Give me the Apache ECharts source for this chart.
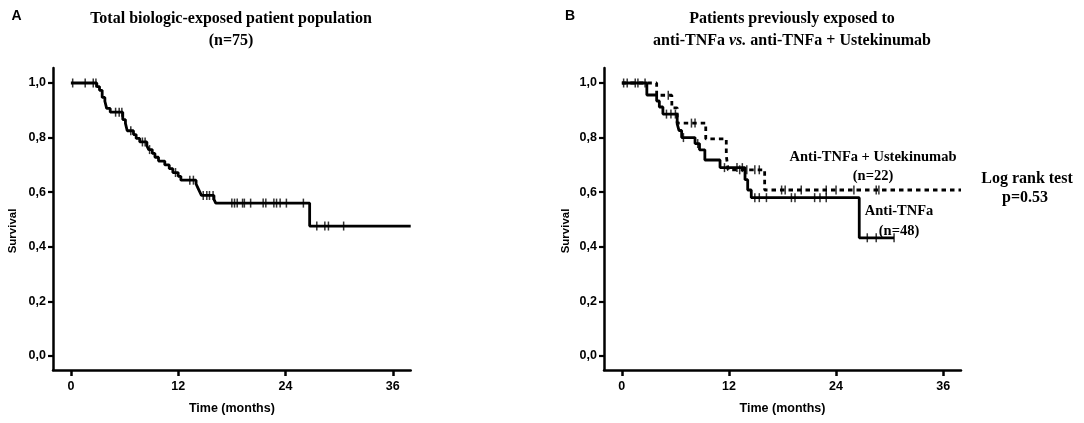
<!DOCTYPE html>
<html><head><meta charset="utf-8">
<script src="https://cdn.jsdelivr.net/npm/echarts@6/dist/echarts.min.js"></script>
<style>html,body{margin:0;padding:0;background:#fff}#c{width:1084px;height:423px}</style>
</head><body><div id="c"></div>
<script>
// ---- tick labels ----
const xTicks = [0, 12, 24, 36];
const yTicks = [0, 0.2, 0.4, 0.6, 0.8, 1.0];

// ---- Panel A: total biologic-exposed population (n=75) ----
const timeA = [0, 2.9, 3.2, 3.5, 3.8, 4.0, 4.4, 5.8, 6.1, 6.3, 7.0, 7.3, 7.7, 8.5, 8.7, 9.1, 9.4, 9.8, 10.5, 11.0, 11.4, 12.0, 12.3, 14.0, 14.2, 14.4, 14.6, 16.0, 16.2, 26.7];
const survA = [1.0, 0.987, 0.973, 0.947, 0.933, 0.907, 0.893, 0.866, 0.852, 0.825, 0.811, 0.797, 0.784, 0.770, 0.756, 0.742, 0.728, 0.714, 0.700, 0.686, 0.672, 0.658, 0.644, 0.630, 0.616, 0.602, 0.588, 0.574, 0.560, 0.476];
const endA = 38;
const censorA = [0.2, 1.6, 2.5, 2.8, 5.0, 5.4, 5.7, 6.7, 8.0, 8.3, 8.8, 11.7, 13.3, 13.7, 14.8, 15.2, 15.5, 15.9, 18.0, 18.3, 18.6, 19.2, 19.4, 20.1, 21.5, 21.8, 22.7, 23.0, 23.4, 24.1, 26.0, 27.5, 28.4, 28.8, 30.5];

// ---- Panel B: Anti-TNFa (n=48), solid ----
const timeB1 = [0, 2.8, 3.9, 4.2, 4.6, 6.2, 6.4, 6.7, 8.2, 8.7, 9.3, 11.0, 13.8, 14.1, 14.5, 26.6];
const survB1 = [1.0, 0.956, 0.934, 0.912, 0.886, 0.850, 0.826, 0.800, 0.778, 0.755, 0.718, 0.690, 0.646, 0.608, 0.580, 0.433];
const endB1 = 30.5;
const censorB1 = [0.2, 1.5, 2.6, 5.0, 5.5, 6.0, 6.9, 8.5, 11.5, 12.9, 13.5, 14.9, 15.4, 16.2, 19.0, 19.4, 21.6, 22.2, 22.9, 27.5, 28.5, 30.5];

// ---- Panel B: Anti-TNFa + Ustekinumab (n=22), dashed ----
const timeB2 = [0, 3.9, 5.6, 6.2, 9.4, 11.7, 11.9, 16.0];
const survB2 = [1.0, 0.955, 0.909, 0.853, 0.795, 0.735, 0.682, 0.608];
const endB2 = 38;
const censorB2 = [0.6, 1.8, 5.2, 7.8, 8.2, 13.2, 14.0, 14.9, 15.4, 17.9, 18.3, 20.1, 22.9, 24.0, 26.0, 28.5, 28.8];

// ---- helpers building library data from the arrays ----
function stepData(times, surv, end) {
  const d = times.map((t, i) => [t, surv[i]]);
  d.push([end, surv[surv.length - 1]]);
  return d;
}
function survAt(times, surv, t) {
  let s = surv[0];
  for (let i = 0; i < times.length; i++) if (times[i] <= t) s = surv[i];
  return s;
}
function censorData(times, surv, cens) {
  return cens.map(t => [t, survAt(times, surv, t)]);
}

const SANS = 'Liberation Sans, Arial, sans-serif';
const SERIF = 'Liberation Serif, Times New Roman, serif';

function xAx(i) {
  return {
    gridIndex: i, type: 'value', min: -2, max: 38,
    axisLine: { onZero: false, lineStyle: { color: '#000', width: 2.5 } },
    axisTick: { customValues: xTicks, length: 6, lineStyle: { color: '#000', width: 2.5 } },
    axisLabel: { customValues: xTicks, color: '#000', fontFamily: SANS, fontWeight: 'bold', fontSize: 12.5, margin: 10 },
    splitLine: { show: false },
    name: 'Time (months)', nameLocation: 'middle', nameGap: 32,
    nameTextStyle: { color: '#000', fontFamily: SANS, fontWeight: 'bold', fontSize: 12.5 }
  };
}
function yAx(i) {
  return {
    gridIndex: i, type: 'value', min: -0.0513, max: 1.0549,
    axisLine: { onZero: false, lineStyle: { color: '#000', width: 2.5 } },
    axisTick: { customValues: yTicks, length: 5, lineStyle: { color: '#000', width: 2.2 } },
    axisLabel: { customValues: yTicks, color: '#000', fontFamily: SANS, fontWeight: 'bold', fontSize: 12.5, margin: 7,
      formatter: v => v.toFixed(1).replace('.', ',') },
    splitLine: { show: false }
  };
}
function lineSeries(i, data, dashed) {
  return {
    type: 'line', xAxisIndex: i, yAxisIndex: i, step: 'end', data: data,
    symbol: 'none', silent: true,
    lineStyle: { color: '#000', width: 2.8, type: dashed ? [4.5, 4] : 'solid' }, z: 3
  };
}
function censSeries(i, data) {
  return {
    type: 'scatter', xAxisIndex: i, yAxisIndex: i, data: data, silent: true,
    symbol: 'rect', symbolSize: [1.5, 9], itemStyle: { color: '#000' }, z: 4
  };
}
function txt(x, y, text, font, extra) {
  return Object.assign({
    type: 'text', x: x, y: y, silent: true,
    style: Object.assign({ text: text, font: font, fill: '#000',
      align: 'center', verticalAlign: 'middle', textAlign: 'center', textVerticalAlign: 'middle' }, extra || {})
  });
}

const chart = echarts.init(document.getElementById('c'));
chart.setOption({
  animation: false,
  backgroundColor: '#fff',
  grid: [
    { left: 53, top: 68, width: 357.7, height: 302, outerBoundsMode: 'none', containLabel: false },
    { left: 604, top: 68, width: 357, height: 302, outerBoundsMode: 'none', containLabel: false }
  ],
  xAxis: [xAx(0), xAx(1)],
  yAxis: [yAx(0), yAx(1)],
  series: [
    lineSeries(0, stepData(timeA, survA, endA), false),
    censSeries(0, censorData(timeA, survA, censorA)),
    lineSeries(1, stepData(timeB2, survB2, endB2), true),
    censSeries(1, censorData(timeB2, survB2, censorB2)),
    lineSeries(1, stepData(timeB1, survB1, endB1), false),
    censSeries(1, censorData(timeB1, survB1, censorB1))
  ],
  graphic: [
    txt(16.5, 16, 'A', 'bold 14px ' + SANS),
    txt(570, 16, 'B', 'bold 14px ' + SANS),
    txt(231, 19, 'Total biologic-exposed patient population', 'bold 16px ' + SERIF),
    txt(231, 41, '(n=75)', 'bold 16px ' + SERIF),
    txt(792, 19, 'Patients previously exposed to', 'bold 16px ' + SERIF),
    {
      type: 'text', x: 792, y: 41, silent: true,
      style: {
        text: '{n|anti-TNFa }{i|vs.}{n| anti-TNFa + Ustekinumab}',
        fill: '#000', align: 'center', verticalAlign: 'middle', textAlign: 'center', textVerticalAlign: 'middle',
        rich: {
          n: { fontFamily: SERIF, fontWeight: 'bold', fontSize: 16, fill: '#000', color: '#000' },
          i: { fontFamily: SERIF, fontWeight: 'bold', fontStyle: 'italic', fontSize: 16, fill: '#000', color: '#000' }
        }
      }
    },
    Object.assign(txt(13, 231, 'Survival', 'bold 11.5px ' + SANS), { rotation: Math.PI / 2 }),
    Object.assign(txt(566, 231, 'Survival', 'bold 11.5px ' + SANS), { rotation: Math.PI / 2 }),
    txt(873, 157, 'Anti-TNFa + Ustekinumab', 'bold 14.5px ' + SERIF),
    txt(873, 176, '(n=22)', 'bold 14.5px ' + SERIF),
    txt(899, 211, 'Anti-TNFa', 'bold 14.5px ' + SERIF),
    txt(899, 231, '(n=48)', 'bold 14.5px ' + SERIF),
    txt(1027, 179, 'Log rank test', 'bold 16px ' + SERIF),
    txt(1025, 198, 'p=0.53', 'bold 16px ' + SERIF)
  ]
});
</script>
</body></html>
